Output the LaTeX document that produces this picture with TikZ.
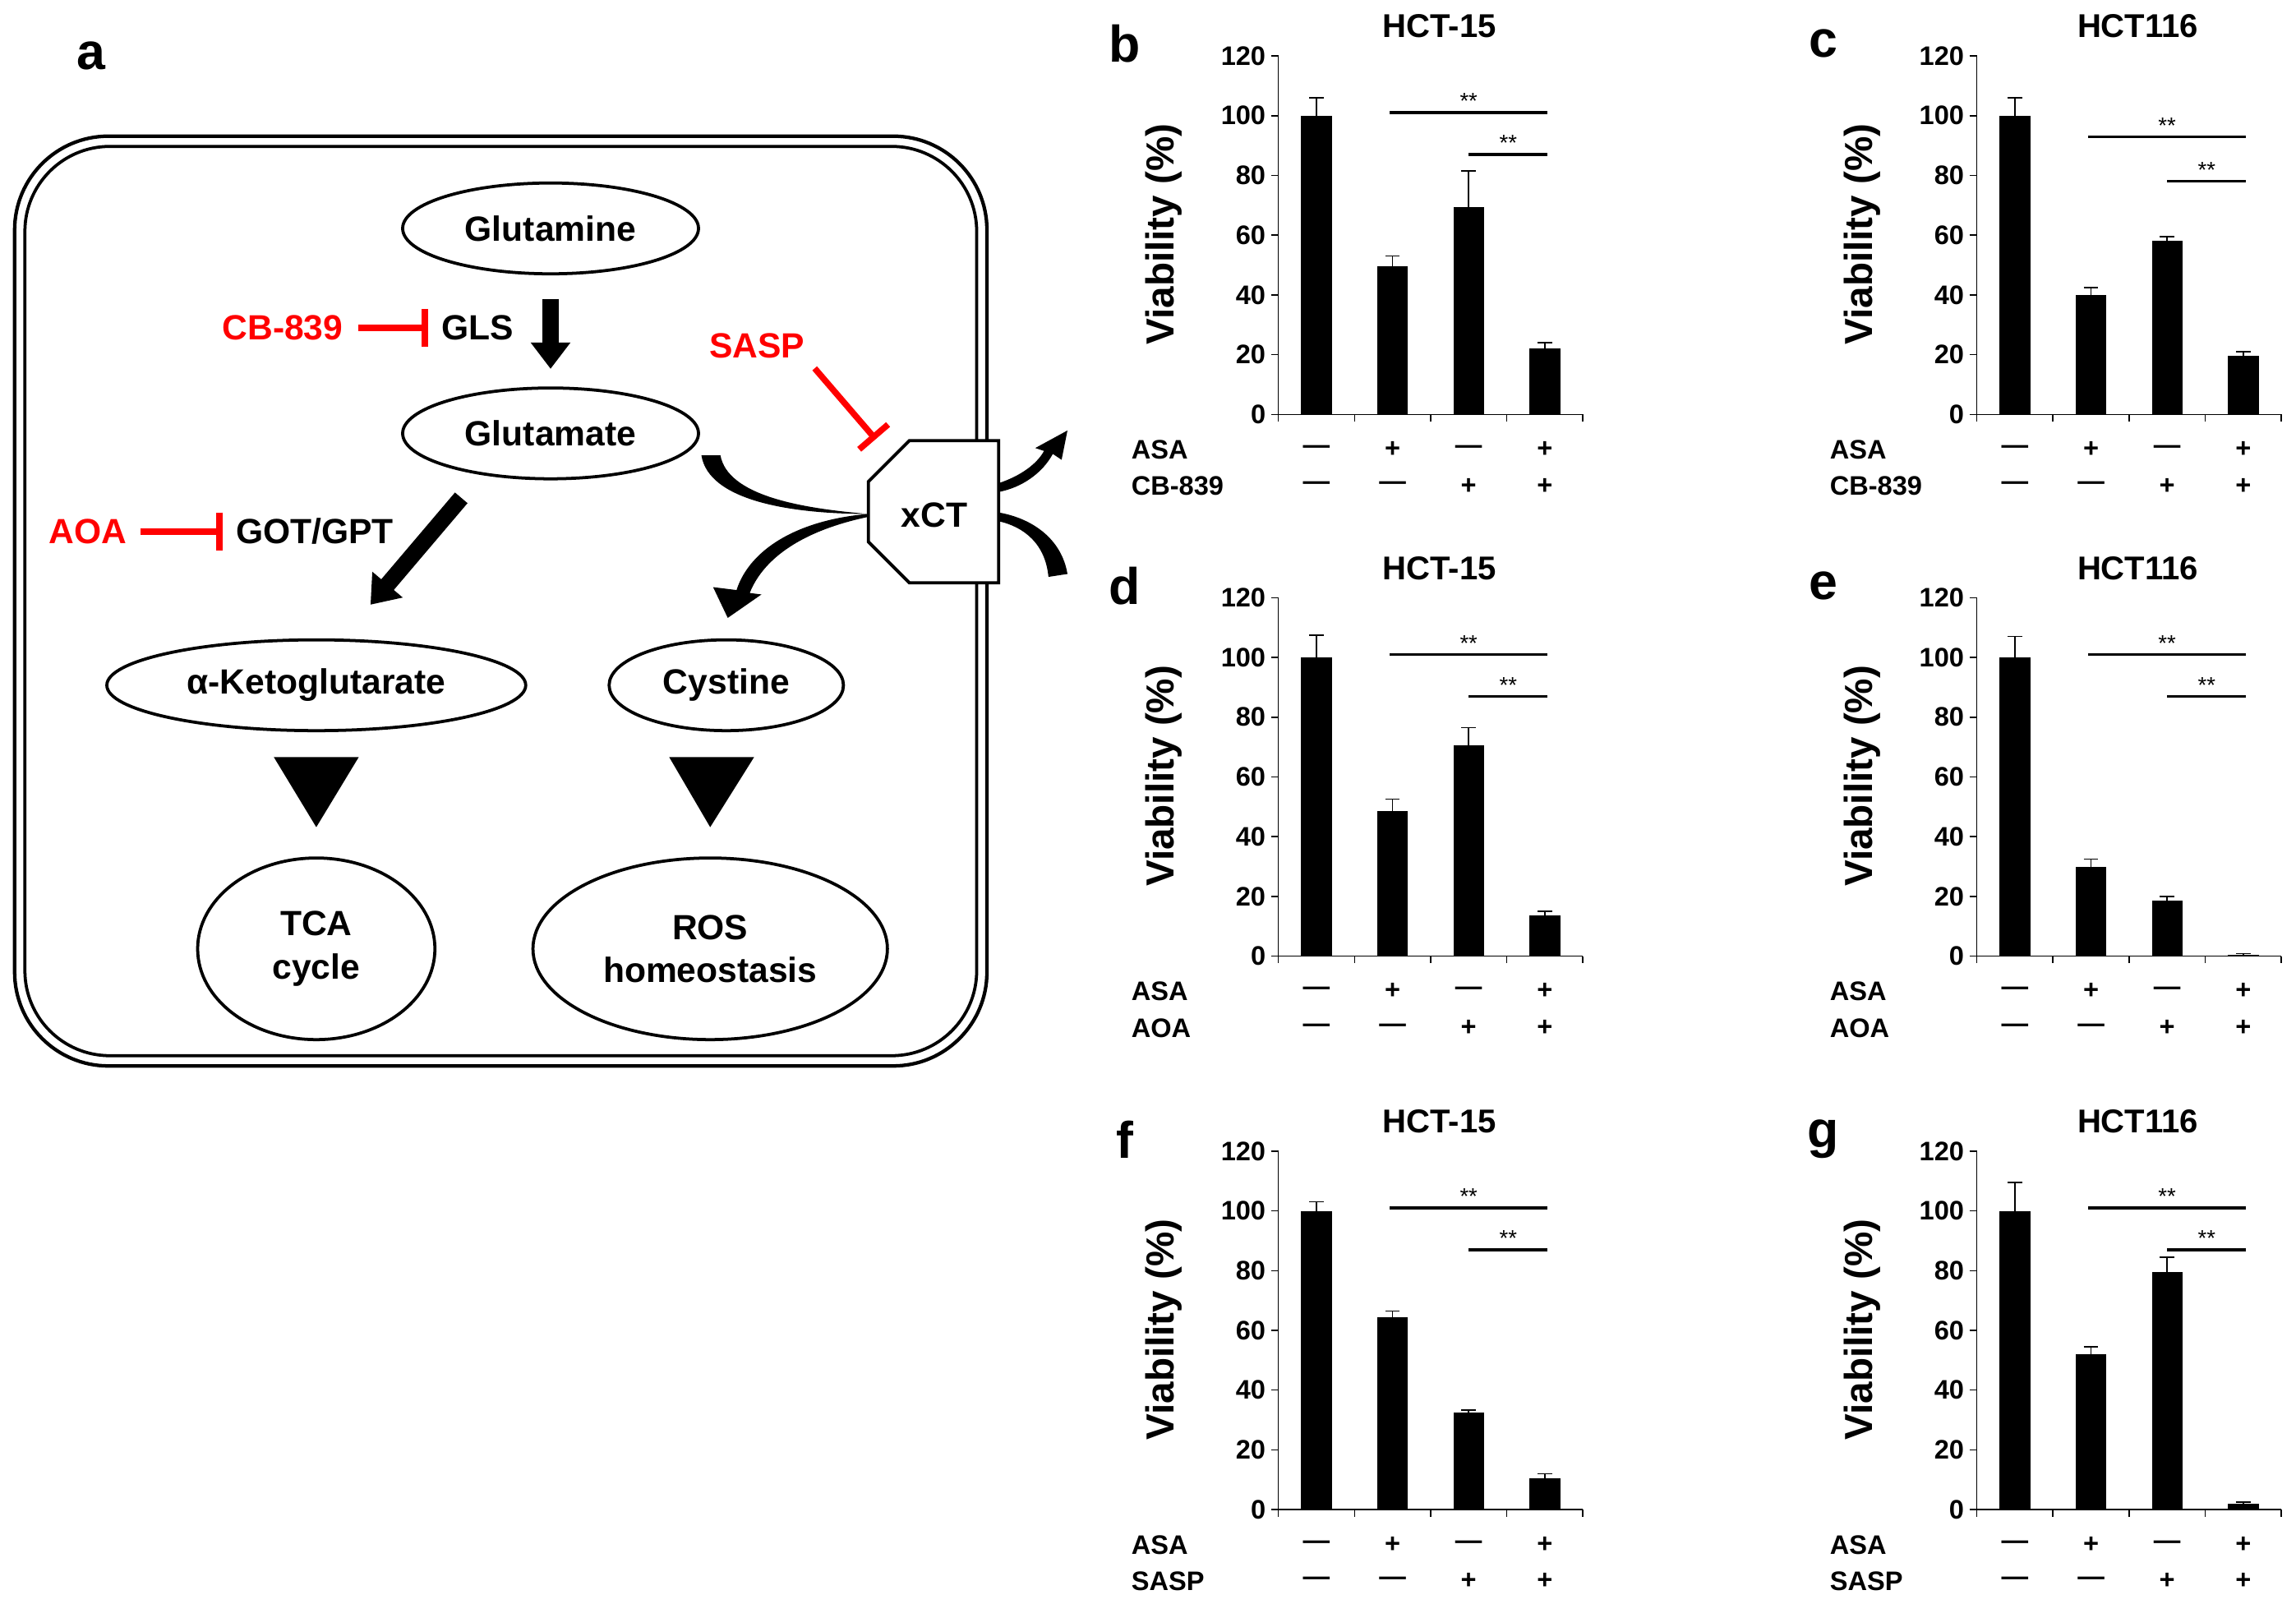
\documentclass[tikz,border=0pt]{standalone}
\usepackage{fontspec}
\setmainfont{Liberation Sans}
\usetikzlibrary{arrows.meta,shapes.geometric,calc}

% one viability panel: x0, y0, letter, title, drug, data, long sig, short sig
\newcommand{\vchart}[8]{%
  \begin{scope}[shift={(#1,#2)}]
    \draw[axis] (0,-245) -- (0,0) -- (208,0);
    \foreach \t in {0,20,...,120} {
      \draw[axis] (-5,{-2.04*\t}) -- (0,{-2.04*\t});
      \node[tick,anchor=east] (#3-y\t) at (-7,{-2.04*\t}) {\t};
    }
    \foreach \i in {0,...,4} \draw[axis] (52*\i,0) -- (52*\i,5);
    \foreach \v/\e [count=\i] in {#6} {
      \fill (52*\i-36.5,0) rectangle ++(21,{-2.04*\v});
      \draw[axis] (52*\i-26,{-2.04*\v}) -- ++(0,{-2.04*\e}) coordinate (#3-e\i);
      \draw[axis] ($(#3-e\i)+(-5,0)$) -- ($(#3-e\i)+(5,0)$);
    }
    \coordinate (#3-l1) at (76,{-2.04*#7});
    \coordinate (#3-l2) at (184,{-2.04*#7});
    \coordinate (#3-s1) at (130,{-2.04*#8});
    \coordinate (#3-s2) at (184,{-2.04*#8});
    \draw[sig] (#3-l1) -- (#3-l2) node[star,midway,above] {**};
    \draw[sig] (#3-s1) -- (#3-s2) node[star,midway,above] {**};
    \node[ttl] (#3-title) at (110,-265) {#4};
    \node[letter] (#3-letter) at (-105,-253) {#3};
    \node[ylab,rotate=90] (#3-ylab) at (-78,-123) {Viability (\%)};
    \node[row,anchor=west] (#3-asa) at (-102,24) {ASA};
    \node[row,anchor=west] (#3-drug) at (-102,49) {#5};
    \foreach \a/\d [count=\i] in {---/---,+/---,---/+,+/+} {
      \node[row] at (52*\i-26,24) {\a};
      \node[row] at (52*\i-26,49) {\d};
    }
  \end{scope}}

\begin{document}
\begin{tikzpicture}[
  x=0.025cm,y=-0.025cm,
  ell/.style = {draw,ellipse,line width=1.5pt,inner sep=0pt,align=center,
                font=\fontsize{17}{21}\selectfont\bfseries},
  lbl/.style = {font=\fontsize{17}{21}\selectfont\bfseries},
  inh/.style = {red,line width=3pt,-{Bar[width=0.65cm,line width=3pt]}},
  fat/.style = {line width=8pt,-{Triangle[length=0.45cm,width=0.65cm]}},
  axis/.style = {line width=0.6pt},
  sig/.style = {line width=1.3pt},
  tick/.style = {font=\fontsize{13}{15}\selectfont\bfseries,inner sep=1pt},
  row/.style = {font=\fontsize{13}{15}\selectfont\bfseries,inner sep=1pt},
  star/.style = {font=\fontsize{11}{12}\selectfont,inner sep=1pt},
  ttl/.style = {font=\fontsize{16}{19}\selectfont\bfseries},
  ylab/.style = {font=\fontsize{19}{22}\selectfont\bfseries},
  letter/.style = {font=\fontsize{25}{29}\selectfont\bfseries}
  ]
  \useasboundingbox (0,0) rectangle (1568,1095);

  % cell
  \draw[line width=1.7pt,rounded corners=1.6cm] (10,93) rectangle (674,728);
  \draw[line width=1.5pt,rounded corners=1.45cm] (17,100) rectangle (667,721);
  \node[letter] (a) at (62,38) {a};

  \node[ell,minimum width=5.05cm,minimum height=1.55cm] (gln) at (376,156) {Glutamine};
  \node[ell,minimum width=5.05cm,minimum height=1.55cm] (glu) at (376,296) {Glutamate};
  \node[ell,minimum width=7.15cm,minimum height=1.55cm] (akg) at (216,468) {α-Ketoglutarate};
  \node[ell,minimum width=4cm,minimum height=1.55cm] (cys) at (496,468) {Cystine};
  \node[ell,minimum width=4.05cm,minimum height=3.1cm] (tca) at (216,648) {TCA\\cycle};
  \node[ell,minimum width=6.05cm,minimum height=3.1cm] (ros) at (485,648) {ROS\\homeostasis};

  \node[lbl,red] (cb) at (193,224) {CB-839};
  \node[lbl] (gls) at (326,224) {GLS};
  \node[lbl,red] (aoa) at (60,363) {AOA};
  \node[lbl] (got) at (215,363) {GOT/GPT};
  \node[lbl,red] (sasp) at (517,236) {SASP};

  \draw[fat] ([yshift=-0.4cm]gln.south) -- ([yshift=0.3cm]glu.north);
  \draw[fat] (315,340) -- (253,413);
  \draw[inh,shorten <=4pt,shorten >=3pt] (cb.east) -- (gls.west);
  \draw[inh,shorten <=3pt,shorten >=3pt] (aoa.east) -- (got.west);

  % transporter
  \draw[line width=1.5pt,fill=white] (593,329) -- (621,301) -- (682,301) -- (682,398)
    -- (621,398) -- (593,370) -- cycle;
  \node[lbl] (xct) at (638,352) {xCT};
  \draw[inh,shorten <=2pt] (sasp.south east) -- (598,300);

  \fill (479,311) .. controls (484,342) and (540,351) .. (593,351)
    .. controls (545,347) and (497,338) .. (492,311) -- cycle;
  \fill (593,351) .. controls (545,355) and (512,375) .. (503,403) -- (487,401)
    -- (497,422) -- (520,406) -- (512,405) .. controls (522,380) and (550,362) .. (593,353) -- cycle;
  \fill (682,330) .. controls (697,325) and (708,317) .. (713,308) -- (707,306)
    -- (729,294) -- (725,314) -- (719,310) .. controls (712,323) and (698,333) .. (682,336) -- cycle;
  \fill (682,356) .. controls (700,360) and (714,372) .. (716,394) -- (729,392)
    .. controls (725,368) and (705,354) .. (682,350) -- cycle;

  % triangles
  \fill ($(akg.south)+(-29,17)$) -- ($(akg.south)+(29,17)$) -- ($(tca.north)+(0,-20)$) -- cycle;
  \fill ($(cys.south)+(-39,17)$) -- ($(cys.south)+(19,17)$) -- ($(ros.north)+(0,-20)$) -- cycle;

  % panels
  \vchart{873}{283}{b}{HCT-15}{CB-839}{100/6,49.5/3.5,69.5/12,22/2}{101}{87}
  \vchart{1350}{283}{c}{HCT116}{CB-839}{100/6,40/2.5,58/1.5,19.5/1.5}{93}{78}
  \vchart{873}{653}{d}{HCT-15}{AOA}{100/7.5,48.5/4,70.5/6,13.5/1.5}{101}{87}
  \vchart{1350}{653}{e}{HCT116}{AOA}{100/7,30/2.5,18.5/1.5,0.5/0.3}{101}{87}
  \vchart{873}{1031}{f}{HCT-15}{SASP}{100/3,64.5/2,32.5/0.8,10.5/1.5}{101}{87}
  \vchart{1350}{1031}{g}{HCT116}{SASP}{100/9.5,52/2.5,79.5/5,2/0.5}{101}{87}
\end{tikzpicture}
\end{document}
